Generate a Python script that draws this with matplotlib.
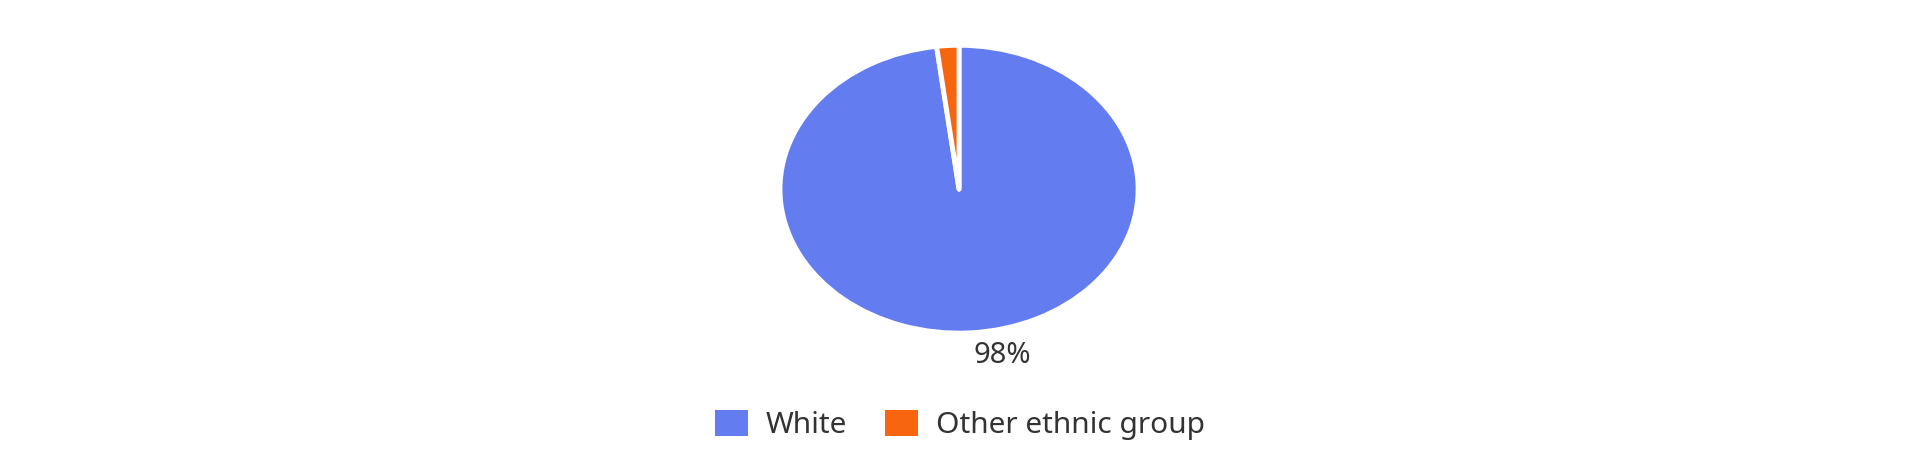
import matplotlib
matplotlib.use('Agg')
import matplotlib.pyplot as plt
from matplotlib.patches import Patch

# Chart data.
groups = ['White', 'Other ethnic group']
shares = [98, 2]
colors = ['#637DF0', '#F8650F']
shown_labels = ['98%', '']

plt.rcParams['font.family'] = ['Noto Sans', 'DejaVu Sans']

fig = plt.figure(figsize=(19.2, 4.62), dpi=100)
ax = fig.add_axes([0.40625, 0.279, 0.1865, 0.623])

wedges, texts = ax.pie(shares, colors=colors, labels=shown_labels,
	startangle=90, counterclock=False, labeldistance=1.155,
	wedgeprops=dict(edgecolor='white', linewidth=3.5, joinstyle='round'),
	textprops=dict(fontsize=21, color='#333333'))

# Stretch the pie to an ellipse like the original.
ax.set_aspect('auto')
ax.set_xlim(-1, 1)
ax.set_ylim(-1, 1)

for t in texts:
	t.set_ha('center')
	t.set_va('center')
	x, y = t.get_position()
	t.set_position((x + 0.17, y))

handles = [Patch(facecolor=c, edgecolor='none') for c in colors]
fig.legend(handles, groups, loc='center', bbox_to_anchor=(960 / 1920, 1 - 425 / 462),
	ncol=2, frameon=False, fontsize=21.5, handlelength=1.1, handleheight=0.94,
	handletextpad=0.6, columnspacing=1.27, labelcolor='#333333')

fig.savefig('out.png', dpi=100, facecolor='white')
